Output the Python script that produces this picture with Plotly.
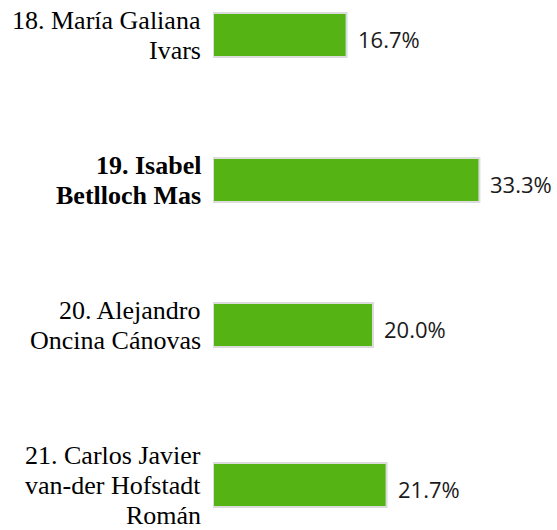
import plotly.graph_objects as go

# ---- data ----
labels = [
    "18. María Galiana\nIvars",
    "19. Isabel\nBetlloch Mas",
    "20. Alejandro\nOncina Cánovas",
    "21. Carlos Javier\nvan-der Hofstadt\nRomán",
]
values = [16.7, 33.3, 20.0, 21.7]
bold = [False, True, False, False]

# ---- layout helpers (row height grows with number of label lines) ----
ROW_BASE = 85
LINE_H = 30
centers = []
acc = 0.0
for lab in labels:
    n = len(lab.split("\n"))
    h = ROW_BASE + LINE_H * n
    centers.append(acc + h / 2)
    acc += h
VIEW_TOP = 37.5
VIEW_H = 530

GREEN = "#55b414"
BORDER = "#dcdcdc"

fig = go.Figure()
fig.add_trace(go.Bar(
    x=values, y=centers, orientation="h", width=44,
    marker=dict(color=GREEN, line=dict(color=BORDER, width=2)),
    hoverinfo="skip",
))

annotations = []
LABEL_FONT = dict(family="Liberation Serif", size=26, color="#000")
for lab, c, b in zip(labels, centers, bold):
    lines = lab.split("\n")
    n = len(lines)
    for i, line in enumerate(lines):
        txt = f"<b>{line}</b>" if b else line
        annotations.append(dict(
            x=0, xref="paper", xanchor="right", xshift=-10,
            y=c, yref="y", yanchor="middle",
            yshift=-((i - (n - 1) / 2) * LINE_H),
            text=txt, showarrow=False, font=LABEL_FONT, align="right",
        ))
for v, c in zip(values, centers):
    annotations.append(dict(
        x=v, xref="x", xanchor="left", xshift=9,
        y=c, yref="y", yanchor="middle", yshift=-4,
        text=f"{v:.1f}%", showarrow=False,
        font=dict(family="Open Sans", size=22, color="#1a1a1a"),
    ))

fig.update_layout(
    width=557, height=530, autosize=False,
    margin=dict(l=213, r=0, t=0, b=0),
    paper_bgcolor="white", plot_bgcolor="white",
    showlegend=False,
    annotations=annotations,
    xaxis=dict(range=[0, 43], visible=False, fixedrange=True),
    yaxis=dict(range=[VIEW_TOP + VIEW_H, VIEW_TOP], visible=False, fixedrange=True),
)
fig.write_html("out.html", config={"displayModeBar": False},
               post_script="document.body.style.margin='0';document.body.style.overflow='hidden';")
